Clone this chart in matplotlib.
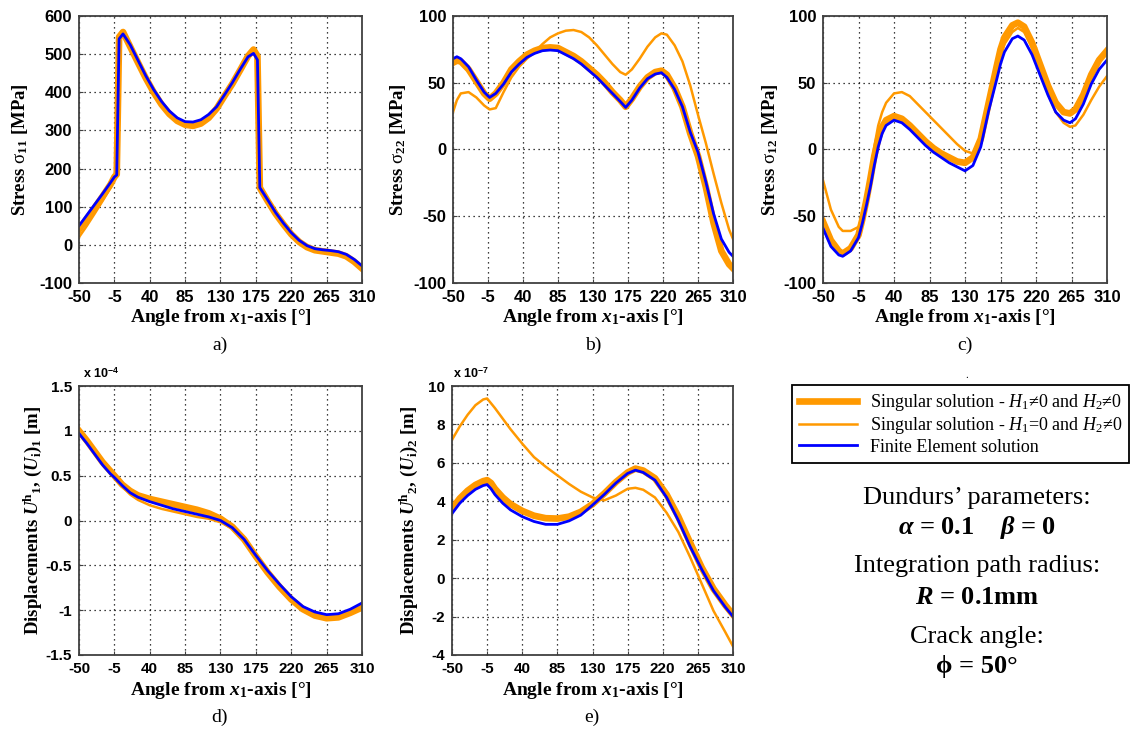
import matplotlib
matplotlib.use("Agg")
import matplotlib.pyplot as plt
from matplotlib.ticker import FuncFormatter

# ---------------------------------------------------------------- data
x_ticks = [-50, -5, 40, 85, 130, 175, 220, 265, 310]

# a) stress sigma_11 [MPa]
a_ang = [-50, -40, -30, -20, -10, -5, -2, 1, 6, 15, 25, 35, 45, 55, 65, 75, 85, 95, 105,
         115, 125, 135, 145, 155, 165, 172, 177, 180, 190, 200, 210, 220, 230, 240, 250,
         260, 270, 280, 290, 300, 310]
a_fe = [50, 78, 106, 134, 163, 178, 183, 540, 553, 525, 484, 443, 407, 376, 351, 333, 323,
        322, 328, 342, 362, 393, 425, 460, 493, 502, 485, 150, 118, 85, 57, 32, 12, -2, -10,
        -13, -15, -18, -25, -38, -55]
a_s1 = [40, 68, 97, 127, 158, 178, 185, 545, 558, 520, 478, 437, 400, 368, 343, 325, 315,
        312, 318, 333, 357, 390, 422, 458, 495, 512, 495, 150, 115, 82, 54, 28, 8, -6, -14,
        -17, -20, -23, -30, -44, -62]
a_s2 = [20, 50, 82, 115, 150, 175, 182, 540, 550, 522, 480, 440, 403, 372, 347, 329, 318,
        316, 322, 337, 360, 392, 420, 455, 490, 505, 488, 150, 116, 83, 55, 30, 10, -4, -12,
        -15, -18, -21, -28, -41, -58]

# b) stress sigma_22 [MPa]
b_ang = [-50, -45, -40, -30, -20, -10, -3, 5, 15, 25, 35, 45, 55, 65, 75, 85, 95, 105, 115,
         125, 135, 145, 155, 165, 172, 180, 190, 200, 210, 218, 225, 235, 245, 255, 265, 275,
         285, 295, 305, 310]
b_fe = [68, 69.5, 68, 62, 52, 43, 39, 42, 49, 58, 64, 69, 72, 74, 74.5, 74, 71, 68, 64, 59,
        54, 48, 42, 36, 31.5, 37, 46, 53, 56.5, 57.5, 54, 45, 32, 13, -2, -24, -48, -67, -77,
        -80]
b_s1 = [65, 66.5, 66, 60, 51, 42, 38, 42, 50, 60, 66, 71, 74, 76, 76.5, 76, 73, 70, 66, 61,
        56, 50, 43, 37, 32, 38, 47, 54, 58, 59, 56, 46, 32, 12, -5, -28, -55, -76, -86, -89]
b_s2 = [28, 37, 42, 43, 39, 33, 30, 31, 43, 54, 62, 68, 73, 79, 84, 87, 89, 89.5, 88, 84,
        78, 71, 64, 58, 56, 60, 68, 77, 84, 87, 86, 78, 66, 48, 26, 5, -18, -40, -60, -67]

# c) stress sigma_12 [MPa]
c_ang = [-50, -40, -30, -25, -15, -5, 0, 5, 10, 15, 20, 25, 30, 40, 50, 60, 70, 80, 90, 100,
         110, 120, 130, 140, 150, 160, 170, 175, 180, 190, 197, 205, 215, 225, 235, 245, 255,
         263, 270, 280, 290, 300, 310]
c_fe = [-59, -72.6, -79, -80, -76, -66, -55, -42, -28, -12, 2, 12, 18, 22, 20, 15, 9, 3, -2,
        -6, -10, -13, -16, -12, 2, 29, 52, 64, 73, 83, 85, 82, 71, 56, 41, 28, 22, 20, 23, 34,
        49, 60, 67]
c_s1 = [-54, -68, -76, -78, -74, -64, -52, -38, -22, -5, 8, 17, 22, 25, 23, 18, 12, 6, 1, -3,
        -6, -9, -10, -6, 8, 35, 62, 75, 84, 93, 95, 92, 80, 64, 48, 35, 28, 27, 30, 41, 56,
        67, 74]
c_s2 = [-23, -45, -58, -61, -61, -58, -52, -38, -18, 2, 18, 28, 35, 42, 43, 40, 34, 28, 22,
        16, 10, 4, -1, -3, 6, 32, 58, 70, 79, 88, 91, 88, 76, 59, 42, 28, 20, 17, 18, 26, 37,
        47, 55]

# d) displacement U1 [x 1e-4 m]
d_ang = [-50, -40, -30, -20, -10, -5, 5, 15, 25, 40, 55, 70, 85, 100, 115, 130, 145, 160,
         175, 190, 205, 220, 235, 250, 265, 280, 295, 310]
d_fe = [0.97, 0.86, 0.74, 0.62, 0.52, 0.48, 0.39, 0.31, 0.26, 0.21, 0.17, 0.13, 0.10, 0.07,
        0.04, 0.0, -0.08, -0.21, -0.39, -0.56, -0.71, -0.85, -0.96, -1.02, -1.05, -1.04,
        -0.99, -0.92]
d_s1 = [1.0, 0.89, 0.77, 0.65, 0.55, 0.5, 0.40, 0.33, 0.28, 0.24, 0.21, 0.18, 0.15, 0.12,
        0.08, 0.02, -0.07, -0.21, -0.40, -0.58, -0.74, -0.88, -0.99, -1.06, -1.09, -1.08,
        -1.03, -0.97]
d_s2 = [1.02, 0.9, 0.77, 0.64, 0.53, 0.48, 0.38, 0.29, 0.23, 0.17, 0.13, 0.1, 0.07, 0.04,
        0.02, -0.02, -0.09, -0.22, -0.40, -0.57, -0.72, -0.86, -0.97, -1.04, -1.07, -1.06,
        -1.01, -0.95]

# e) displacement U2 [x 1e-7 m]
e_ang = [-50, -40, -30, -20, -10, -5, 0, 5, 15, 25, 40, 55, 70, 85, 100, 115, 130, 145, 160,
         175, 185, 195, 210, 225, 240, 255, 270, 285, 300, 310]
e_fe = [3.36, 3.9, 4.3, 4.62, 4.82, 4.87, 4.65, 4.35, 3.9, 3.55, 3.2, 2.95, 2.8, 2.8, 2.98,
        3.28, 3.8, 4.35, 4.95, 5.45, 5.62, 5.5, 5.1, 4.2, 3.0, 1.65, 0.45, -0.65, -1.5, -2.0]
e_s1 = [3.62, 4.15, 4.55, 4.85, 5.05, 5.1, 4.95, 4.65, 4.2, 3.85, 3.5, 3.25, 3.12, 3.1, 3.2,
        3.45, 3.85, 4.4, 5.0, 5.5, 5.7, 5.6, 5.2, 4.35, 3.2, 1.85, 0.55, -0.55, -1.4, -1.9]
e_s2 = [7.2, 7.9, 8.5, 9.0, 9.3, 9.35, 9.1, 8.85, 8.3, 7.75, 7.0, 6.3, 5.8, 5.35, 4.9, 4.5,
        4.2, 4.05, 4.3, 4.65, 4.7, 4.6, 4.2, 3.4, 2.4, 1.1, -0.3, -1.7, -2.8, -3.55]

legend_labels = [r"Singular solution - $\mathit{H}_{1}$≠0 and $\mathit{H}_{2}$≠0",
                 r"Singular solution - $\mathit{H}_{1}$=0 and $\mathit{H}_{2}$≠0",
                 "Finite Element solution"]

# ---------------------------------------------------------------- style
plt.rcParams.update({
    "font.family": "Liberation Sans",
    "font.weight": "bold",
    "axes.unicode_minus": False,
    "mathtext.fontset": "custom",
    "mathtext.rm": "Liberation Serif:normal",
    "mathtext.it": "Liberation Serif:italic:normal",
    "mathtext.bf": "Liberation Serif:bold",
    "mathtext.bfit": "Liberation Serif:italic:bold",
    "mathtext.sf": "Liberation Sans:bold",
})

ORANGE = "#FF9900"
BLUE = "#0000FF"
W, H = 1131, 732
SERIF = "Liberation Serif"

fig = plt.figure(figsize=(W / 100, H / 100), dpi=100)


def px_axes(x0, x1, y0, y1):
    return fig.add_axes([x0 / W, 1 - y1 / H, (x1 - x0) / W, (y1 - y0) / H])


fmt = FuncFormatter(lambda v, p: f"{v:g}")


def draw(ax, ang, s1, s2, fe, ylim, yticks, ylabel, ylab_x, tick_size):
    l1, = ax.plot(ang, s1, color=ORANGE, lw=4.8, solid_joinstyle="round")
    l2, = ax.plot(ang, s2, color=ORANGE, lw=1.8)
    l3, = ax.plot(ang, fe, color=BLUE, lw=2.0)
    ax.set_xlim(-50, 310)
    ax.set_ylim(*ylim)
    ax.set_xticks(x_ticks)
    ax.set_yticks(yticks)
    ax.xaxis.set_major_formatter(fmt)
    ax.yaxis.set_major_formatter(fmt)
    ax.grid(True, color="black", linestyle=(0, (1, 3)), linewidth=0.9)
    for s in ax.spines.values():
        s.set_color("#404040")
        s.set_linewidth(1.3)
    ax.tick_params(direction="in", length=3, labelsize=tick_size, pad=5, color="#404040")
    ax.set_xlabel(r"Angle from $\mathbfit{x}_{\mathbf{1}}$-axis [°]",
                  fontfamily=SERIF, fontweight="bold", fontsize=14)
    ax.xaxis.label.set_va("center")
    ax.xaxis.set_label_coords(0.5, -0.131)
    ax.set_ylabel(ylabel, fontfamily=SERIF, fontweight="bold", fontsize=13.5)
    ax.yaxis.label.set_va("center")
    ax.yaxis.set_label_coords(ylab_x, 0.5)
    return l1, l2, l3


ax_a = px_axes(79, 362, 16, 283)
handles = draw(ax_a, a_ang, a_s1, a_s2, a_fe, (-100, 600), range(-100, 601, 100),
               r"Stress $\mathrm{\sigma}_{\mathbf{11}}$ [MPa]", -0.208, 12)

ax_b = px_axes(453, 733, 16, 283)
draw(ax_b, b_ang, b_s1, b_s2, b_fe, (-100, 100), range(-100, 101, 50),
     r"Stress $\mathrm{\sigma}_{\mathbf{22}}$ [MPa]", -0.196, 12)

ax_c = px_axes(823, 1107, 16, 283)
draw(ax_c, c_ang, c_s1, c_s2, c_fe, (-100, 100), range(-100, 101, 50),
     r"Stress $\mathrm{\sigma}_{\mathbf{12}}$ [MPa]", -0.187, 12)

ax_d = px_axes(79, 362, 386, 655)
draw(ax_d, d_ang, d_s1, d_s2, d_fe, (-1.5, 1.5), [-1.5, -1, -0.5, 0, 0.5, 1, 1.5],
     r"Displacements $\mathbfit{U}^{\mathbf{h}}{}_{\mathbf{1}}$, "
     r"$\mathbf{(}\mathbfit{U}_{\mathbf{i}}\mathbf{)}_{\mathbf{1}}$ [m]", -0.163, 11)

ax_e = px_axes(452, 733, 386, 655)
draw(ax_e, e_ang, e_s1, e_s2, e_fe, (-4, 10), range(-4, 11, 2),
     r"Displacements $\mathbfit{U}^{\mathbf{h}}{}_{\mathbf{2}}$, "
     r"$\mathbf{(}\mathbfit{U}_{\mathbf{i}}\mathbf{)}_{\mathbf{2}}$ [m]", -0.155, 11)

# scale factors of the displacement axes
fig.text(83 / W, 1 - 374 / H, r"x 10$^{\mathsf{-4}}$", fontsize=9, ha="left", va="center")
fig.text(453 / W, 1 - 374 / H, r"x 10$^{\mathsf{-7}}$", fontsize=9, ha="left", va="center")

# panel letters
for cx, cy, s in [(220, 345, "a)"), (593, 345, "b)"), (965, 345, "c)"),
                  (220, 717, "d)"), (592, 717, "e)")]:
    fig.text(cx / W, 1 - cy / H, s, ha="center", va="center", fontfamily=SERIF,
             fontweight="normal", fontsize=14)
fig.text(967 / W, 1 - 376 / H, ".", ha="center", va="center", fontfamily=SERIF,
         fontweight="normal", fontsize=8)

# legend
leg = fig.legend(handles, legend_labels, loc="upper left",
                 bbox_to_anchor=(792 / W, 1 - 385 / H), borderaxespad=0,
                 prop={"family": SERIF, "weight": "normal", "size": 13},
                 frameon=True, fancybox=False, edgecolor="black", framealpha=1,
                 handlelength=3.2, handletextpad=0.7, borderpad=0.4, labelspacing=0.12)
leg.get_frame().set_linewidth(1.3)

# parameter block
cx = 977 / W
blocks = [
    (504, "Dundurs’ parameters:", "normal"),
    (534, r"$\mathbfit{\alpha}$ = 0.1    $\mathbfit{\beta}$ = 0", "bold"),
    (572, "Integration path radius:", "normal"),
    (604, r"$\mathbfit{R}$ = 0.1mm", "bold"),
    (643, "Crack angle:", "normal"),
    (673, "ϕ = 50°", "bold"),
]
for y, s, w in blocks:
    fig.text(cx, 1 - y / H, s, ha="center", va="baseline", fontfamily=[SERIF, "DejaVu Serif"],
             fontweight=w, fontsize=19)

fig.savefig("out.png", dpi=100)
